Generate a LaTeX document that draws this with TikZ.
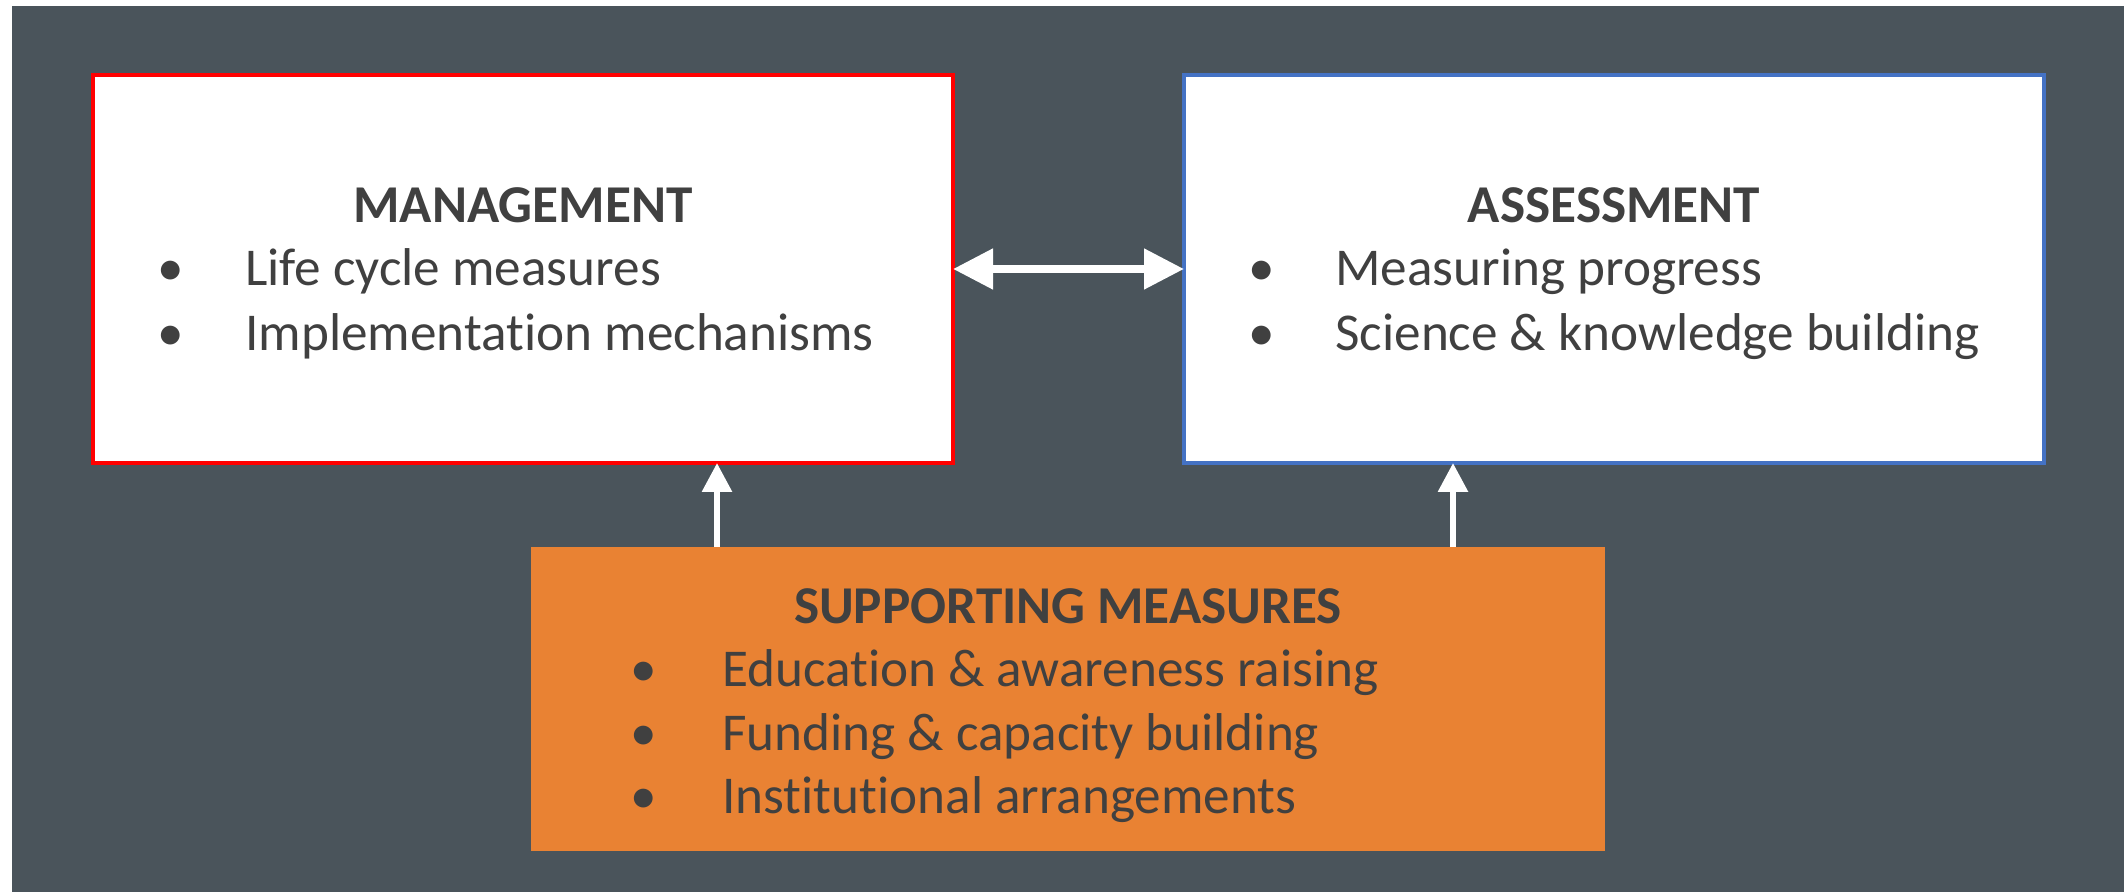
\documentclass[tikz,border=0pt]{standalone}
\usepackage{fontspec}
\setmainfont{Carlito}[Ligatures={NoCommon}]
\usetikzlibrary{arrows.meta}
\definecolor{bggray}{HTML}{4A545B}
\definecolor{boxred}{HTML}{FF0000}
\definecolor{boxblue}{HTML}{4472C4}
\definecolor{boxorange}{HTML}{E98233}
\definecolor{txtgray}{HTML}{404040}
\tikzset{
  panel/.style={rectangle, inner sep=0pt, outer sep=0pt, fill=white},
  title/.style={anchor=base, inner sep=0pt, text=txtgray, font=\fontsize{26.6}{32}\selectfont\bfseries},
  item/.style={anchor=base west, inner sep=0pt, text=txtgray, font=\fontsize{26.6}{32}\selectfont},
  dot/.style={anchor=base, inner sep=0pt, text=txtgray, font=\fontsize{26.6}{32}\selectfont},
  bigarrow/.style={draw=white, line width=4pt, {Triangle[length=20pt,width=19.5pt]}-{Triangle[length=20pt,width=19.5pt]}},
  uparrow/.style={draw=white, line width=3pt, -{Triangle[length=14.5pt,width=14.5pt]}}
}
\begin{document}
\begin{tikzpicture}[x=0.5pt,y=-0.5pt]
\useasboundingbox (0,0) rectangle (2124,892);
\fill[white] (0,0) rectangle (2124,892);
\fill[bggray] (12,6) rectangle (2124,892);
% boxes
\node[panel, draw=boxred, line width=2pt, minimum width=430pt, minimum height=194pt] (mgmt) at (523,269) {};
\node[panel, draw=boxblue, line width=1.75pt, minimum width=430pt, minimum height=194pt] (assess) at (1614,269) {};
\node[rectangle, inner sep=0pt, outer sep=0pt, fill=boxorange, minimum width=537pt, minimum height=152pt] (support) at (1068,699) {};
% management text
\node[title] (mt) at (523,223) {MANAGEMENT};
\node[dot] (mb1) at (171,286) {•};
\node[item] (m1) at (245,286) {Life cycle measures};
\node[dot] (mb2) at (171,351) {•};
\node[item] (m2) at (245,351) {Implementation mechanisms};
% assessment text
\node[title] (at) at (1614,223) {ASSESSMENT};
\node[dot] (ab1) at (1262,286) {•};
\node[item] (a1) at (1335,286) {Measuring progress};
\node[dot] (ab2) at (1262,351) {•};
\node[item] (a2) at (1335,351) {Science \& knowledge building};
% supporting text
\node[title] (st) at (1068,623) {SUPPORTING MEASURES};
\node[dot] (sb1) at (644,686) {•};
\node[item] (s1) at (722,686) {Education \& awareness raising};
\node[dot] (sb2) at (644,750) {•};
\node[item] (s2) at (722,750) {Funding \& capacity building};
\node[dot] (sb3) at (644,813) {•};
\node[item] (s3) at (722,813) {Institutional arrangements};
% arrows
\coordinate (la) at (717,0);
\coordinate (ra) at (1453,0);
\draw[bigarrow] (mgmt.east) -- (assess.west);
\draw[uparrow] (support.north -| la) -- (mgmt.south -| la);
\draw[uparrow] (support.north -| ra) -- (assess.south -| ra);
\end{tikzpicture}
\end{document}
